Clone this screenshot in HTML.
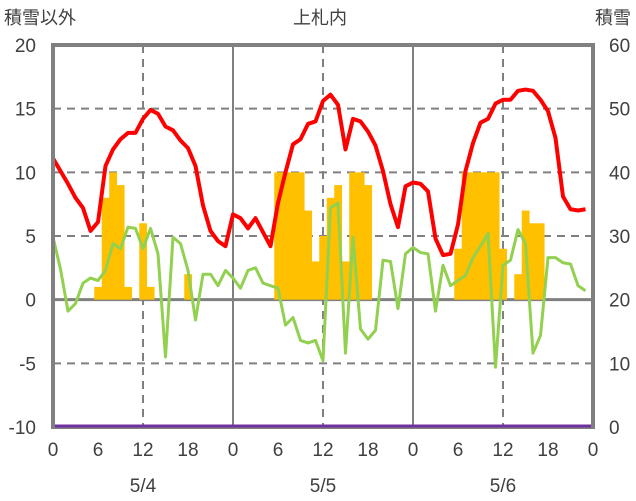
<!DOCTYPE html>
<html><head><meta charset="utf-8">
<style>
html,body{margin:0;padding:0;background:#fff;}
svg{display:block;font-family:"Liberation Sans","Noto Sans CJK JP",sans-serif;}
</style></head>
<body>
<svg id="chart" width="636" height="501" viewBox="0 0 636 501" xmlns="http://www.w3.org/2000/svg">
<g id="grid"></g>
<g id="bars"></g>
<g id="lines"></g>
<g id="frame"></g>
<g id="labels"></g>
</svg>
<script>
const hours = Array.from({length:72},(_,i)=>i);
const tempValues = [11.1,10.1,9.1,8.0,7.2,5.4,6.1,10.5,11.8,12.6,13.1,13.1,14.2,14.9,14.6,13.6,13.3,12.5,11.9,10.5,7.4,5.4,4.6,4.2,
6.7,6.4,5.6,6.4,5.3,4.2,7.6,10.0,12.2,12.6,13.8,14.0,15.6,16.1,15.3,11.8,14.2,14.0,13.2,12.1,10.1,7.5,5.7,8.9,
9.2,9.1,8.5,4.8,3.5,3.6,5.9,10.1,12.3,13.9,14.2,15.4,15.7,15.7,16.4,16.5,16.4,15.7,14.8,12.7,8.1,7.1,7.0,7.1];
const greenValues = [4.9,2.4,-0.9,-0.3,1.3,1.7,1.5,2.3,4.4,4.0,5.7,5.6,4.0,5.6,3.6,-4.5,4.9,4.4,2.3,-1.6,2.0,2.0,1.1,2.3,
1.7,0.9,2.3,2.5,1.3,1.1,0.9,-2.0,-1.4,-3.2,-3.4,-3.2,-4.8,7.2,7.6,-4.2,4.9,-2.3,-3.1,-2.4,3.1,3.0,-0.7,3.6,
4.1,3.7,3.6,-0.9,2.7,1.1,1.5,1.9,3.3,4.2,5.2,-5.3,2.7,3.1,5.5,4.4,-4.2,-2.8,3.3,3.3,2.9,2.8,1.1,0.7];
const barValues = [0,0,0,0,0,0,1,8,10,9,1,0,6,1,0,0,0,0,2,0,0,0,0,0,
0,0,0,0,0,0,10,10,10,10,7,3,5,8,9,3,10,10,9,0,0,0,0,0,
0,0,0,0,0,0,4,10,10,10,10,10,4,0,2,7,6,6,0,0,0,0,0,0];
const snowDepth = new Array(73).fill(0);
const leftTicks = [20,15,10,5,0,-5,-10];
const rightTicks = [60,50,40,30,20,10,0];
const hourTicks = [0,6,12,18,24,30,36,42,48,54,60,66,72];
const hourTickLabels = ["0","6","12","18","0","6","12","18","0","6","12","18","0"];
const dayLabels = ["5/4","5/5","5/6"];

const X0=53,X1=593,Y0=45,Y1=427;
const xs=h=>X0+(X1-X0)*h/72;
const yL=v=>Y1-(v+10)*(Y1-Y0)/30;
const yR=v=>Y1-v*(Y1-Y0)/60;
const NS="http://www.w3.org/2000/svg";
function mk(tag,attrs,parent){const e=document.createElementNS(NS,tag);for(const k in attrs)e.setAttribute(k,attrs[k]);parent.appendChild(e);return e;}
const grid=document.getElementById('grid'),bars=document.getElementById('bars'),lines=document.getElementById('lines'),frame=document.getElementById('frame'),labels=document.getElementById('labels');
leftTicks.forEach(v=>{if(v===20||v===-10)return;const y=yL(v);
 const l=mk('line',{x1:X0,x2:X1,y1:y,y2:y,stroke:'#808080','stroke-width':v===0?3:2,'stroke-dasharray':v===0?'none':'8,6'},grid);
 
 });
[12,24,36,48,60].forEach(h=>{const x=xs(h);const solid=h%24===0;
 const l=mk('line',{x1:x,x2:x,y1:Y0,y2:Y1,stroke:'#808080','stroke-width':solid?2:2,'stroke-dasharray':solid?'none':'8,6'},grid);
 
 });
barValues.forEach((v,i)=>{if(!v)return;const w=(X1-X0)/72;
 const r=mk('rect',{x:xs(i)-w/2,y:yL(v),width:w+0.3,height:yL(0)-yL(v),fill:'#ffc000'},bars);
 
 });
const pl=(vals,col,w,name)=>{const p=mk('polyline',{points:vals.map((v,i)=>xs(i)+','+yL(v)).join(' '),fill:'none',stroke:col,'stroke-width':w,'stroke-linejoin':'round'},lines);
 
 };
pl(greenValues,'#92d050',3,'green-series-line');
pl(tempValues,'#ff0000',4,'red-series-line');
const pd=mk('polyline',{points:snowDepth.map((v,i)=>xs(i)+','+(yR(v)-1)).join(' '),fill:'none',stroke:'#7030a0','stroke-width':3},lines);


const fr=mk('rect',{x:X0,y:Y0,width:X1-X0,height:Y1-Y0,fill:'none',stroke:'#808080','stroke-width':4},frame);


const pd2=mk('line',{x1:X0+2,x2:X1-2,y1:Y1-1,y2:Y1-1,stroke:'#7030a0','stroke-width':3},frame);


const txt=(s,x,y,anchor,size,name)=>{const t=mk('text',{x:x,y:y,'text-anchor':anchor,'font-size':size,fill:'#404040'},labels);t.textContent=s;
 
 };
leftTicks.forEach(v=>txt(String(v),36,yL(v)+7,'end',19,'left-tick-label'));
rightTicks.forEach(v=>txt(String(v),609,yR(v)+7,'start',19,'right-tick-label'));
hourTicks.forEach((h,i)=>txt(hourTickLabels[i],xs(h),456,'middle',19,'x-tick-label'));
dayLabels.forEach((d,i)=>txt(d,xs(12+24*i),492,'middle',19,'day-label'));
txt('積雪以外',4,24,'start',18,'left-axis-title');
txt('上札内',320,24,'middle',18,'chart-title');
txt('積雪',631,24,'end',18,'right-axis-title');
</script>
</body></html>
